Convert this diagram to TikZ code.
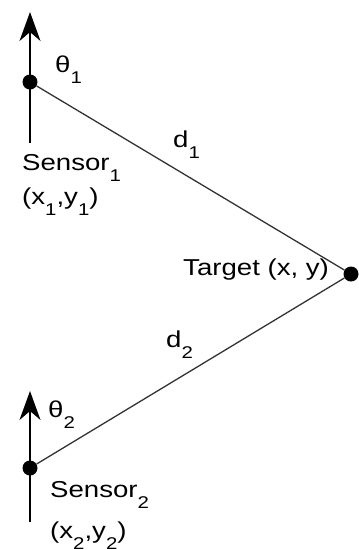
\documentclass[tikz,border=0pt]{standalone}
\usepackage{fontspec}
\setmainfont{Liberation Sans}[FakeStretch=1.2]
\usetikzlibrary{arrows.meta}
\newcommand{\sbs}[1]{\raisebox{-11pt}{\fontsize{17}{17}\selectfont #1}}
\begin{document}
\begin{tikzpicture}[x=1pt,y=-1pt,
  lbl/.style={anchor=base west,inner sep=0pt,font=\fontsize{23}{27}\selectfont},
  dot/.style={circle,fill=black,inner sep=0pt,minimum size=15pt},
  heading/.style={line width=2.2pt,-{Stealth[length=29pt,width=21pt,inset=9pt]}},
  ray/.style={line width=1.3pt,draw=black!80}]
\useasboundingbox (0,0) rectangle (359,550);
% sensors and target
\coordinate (b1) at (30,143); \coordinate (h1) at (30,12);
\coordinate (b2) at (30,522); \coordinate (h2) at (30,391);
\draw[heading] (b1) -- (h1);
\draw[heading] (b2) -- (h2);
\node[dot] (s1) at (30,82) {};
\node[dot] (s2) at (30,468) {};
\node[dot] (t) at (351,274) {};
\draw[ray] (s1) -- (t);
\draw[ray] (s2) -- (t);
% labels
\node[lbl] (th1) at (55,72) {θ\sbs{1}};
\node[lbl] (th2) at (48,417) {θ\sbs{2}};
\node[lbl] (sn1) at (22,170) {Sensor\sbs{1}};
\node[lbl] (xy1) at (22,204) {(x\sbs{1},y\sbs{1})};
\node[lbl] (sn2) at (50,497) {Sensor\sbs{2}};
\node[lbl] (xy2) at (50,538) {(x\sbs{2},y\sbs{2})};
\node[lbl] (tl) at (183,275) {Target (x, y)};
\node[lbl] (d1) at (173,147) {d\sbs{1}};
\node[lbl] (d2) at (166,347) {d\sbs{2}};
\end{tikzpicture}
\end{document}
